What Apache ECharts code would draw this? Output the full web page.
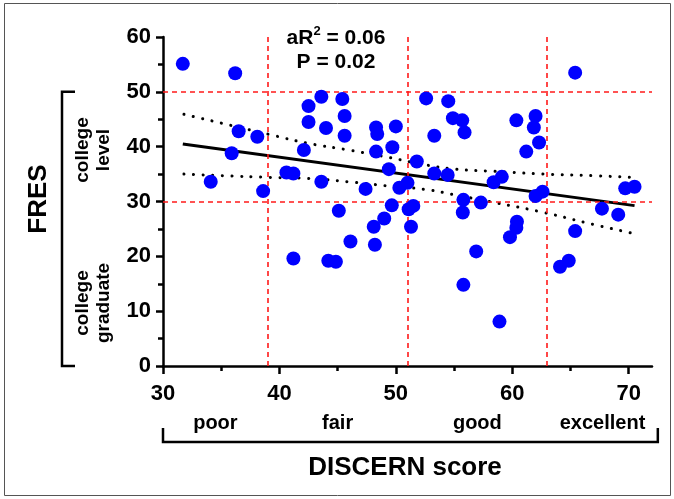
<!DOCTYPE html>
<html><head><meta charset="utf-8">
<script src="https://cdn.jsdelivr.net/npm/echarts@6/dist/echarts.min.js"></script>
<style>html,body{margin:0;padding:0;background:#fff}#c{width:674px;height:499px}</style>
</head><body><div id="c"></div>
<script>
// ---- data ----
const discern = [31.7, 36.2, 35.9, 36.5, 34.1, 38.1, 38.6, 40.6, 41.2, 41.2,
  42.1, 42.5, 42.5, 43.6, 44.0, 43.6, 44.2, 44.85, 45.1, 45.4,
  45.6, 45.6, 46.1, 47.4, 48.1, 48.2, 48.3, 48.4, 48.3, 49.0,
  49.4, 49.65, 49.7, 50.0, 50.3, 51.0, 51.1, 51.5, 51.3, 51.8,
  52.6, 53.3, 53.3, 54.45, 54.5, 54.9, 55.7, 55.9, 55.8, 55.75,
  55.8, 56.9, 57.3, 58.4, 59.1, 58.9, 59.8, 60.35, 60.4, 60.35,
  61.2, 61.85, 62.0, 62.3, 62.0, 62.6, 64.1, 64.85, 65.4, 65.4,
  67.7, 69.1, 69.7, 70.5];
const fres = [55.1, 53.4, 38.8, 42.8, 33.6, 41.8, 31.9, 35.3, 35.1, 19.6,
  39.4, 47.4, 44.5, 49.1, 43.4, 33.6, 19.2, 19.0, 28.3, 48.7,
  45.6, 42.0, 22.7, 32.3, 25.4, 22.1, 43.5, 42.3, 39.1, 26.9,
  35.9, 29.3, 39.9, 43.7, 32.5, 33.4, 28.6, 29.2, 25.4, 37.3,
  48.8, 42.0, 35.1, 34.85, 48.3, 45.2, 44.8, 42.6, 30.3, 28.0,
  14.8, 20.9, 29.8, 33.5, 34.5, 8.1, 23.5, 25.2, 26.3, 44.8,
  39.1, 43.5, 45.6, 40.75, 31.0, 31.8, 18.1, 19.2, 24.6, 53.5,
  28.7, 27.6, 32.4, 32.7];
const regX = [31.7, 70.5];
const regY = [40.5, 29.25];
const bandX = [31.8, 35.2, 39.2, 42.5, 45.9, 49.5, 52.5, 55.1, 58.5, 62.7, 67.0, 70.35];
const bandUpper = [45.9, 44.2, 42.2, 40.6, 39.4, 38.0, 36.7, 35.9, 35.5, 35.0, 34.7, 34.4];
const bandLower = [35.0, 34.7, 34.4, 34.2, 33.6, 32.8, 32.2, 31.2, 29.8, 28.0, 25.8, 24.2];
const cutX = [39, 51, 63];
const cutY = [30, 50];
const xTicks = [30, 40, 50, 60, 70];
const xMinorTicks = [35, 45, 55, 65];
const qualityLabels = ['poor', 'fair', 'good', 'excellent'];
const qualityEdges = [30, 39, 51, 63, 72.5];
const statsText = ['aR', '2', ' = 0.06', 'P = 0.02'];

const FONT = "'Liberation Sans', Arial, Helvetica, sans-serif";
const chart = echarts.init(document.getElementById('c'), null, {renderer: 'canvas'});

const points = discern.map((d, i) => [d, fres[i]]);
const regLine = regX.map((d, i) => [d, regY[i]]);
const upper = bandX.map((d, i) => [d, bandUpper[i]]);
const lower = bandX.map((d, i) => [d, bandLower[i]]);

const markLines = cutX.map(v => ({xAxis: v})).concat(cutY.map(v => ({yAxis: v})));

const dotStyle = {color: '#000', width: 3, type: [0.1, 9.5], cap: 'round'};

chart.setOption({
  animation: false,
  backgroundColor: '#fff',
  grid: {left: 163, right: 22, top: 37, bottom: 133, containLabel: false},
  xAxis: [{
    type: 'value', min: 30, max: 72, interval: 10,
    axisLine: {show: true, onZero: false, lineStyle: {color: '#000', width: 2.5}},
    axisTick: {show: true, length: 8, lineStyle: {color: '#000', width: 2.5}, customValues: xTicks},
    axisLabel: {show: true, customValues: xTicks, margin: 17, color: '#000', fontSize: 22, fontWeight: 'bold', fontFamily: FONT},
    splitLine: {show: false}
  }, {
    type: 'value', min: 30, max: 72, position: 'bottom', gridIndex: 0,
    axisLine: {show: false},
    axisTick: {show: true, length: 5, lineStyle: {color: '#000', width: 2.5}, customValues: xMinorTicks},
    axisLabel: {show: false},
    splitLine: {show: false}
  }],
  yAxis: {
    type: 'value', min: 0, max: 60, interval: 10,
    axisLine: {show: true, onZero: false, lineStyle: {color: '#000', width: 2.5}},
    axisTick: {show: true, length: 7, lineStyle: {color: '#000', width: 2.5}},
    minorTick: {show: true, splitNumber: 2, length: 5, lineStyle: {color: '#000', width: 2.5}},
    axisLabel: {margin: 12, color: '#000', fontSize: 22, fontWeight: 'bold', fontFamily: FONT},
    splitLine: {show: false}
  },
  series: [
    {
      type: 'line', data: [], silent: true,
      markLine: {
        silent: true, symbol: ['none', 'none'], label: {show: false},
        lineStyle: {color: '#ff1a1a', width: 1.6, type: [5, 4]},
        data: markLines
      },
      z: 1
    },
    {type: 'line', data: upper, smooth: true, symbol: 'none', lineStyle: dotStyle, z: 2},
    {type: 'line', data: lower, smooth: true, symbol: 'none', lineStyle: dotStyle, z: 2},
    {type: 'line', data: regLine, symbol: 'none', lineStyle: {color: '#000', width: 3}, z: 3},
    {type: 'scatter', data: points, symbol: 'circle', symbolSize: 14,
     itemStyle: {color: '#0000ff', opacity: 1}, z: 5}
  ]
});

function px(x, y) { return chart.convertToPixel({gridIndex: 0}, [x, y]); }

const bracketY0 = px(30, 50)[1];
const bracketY1 = px(30, 0)[1];
const bx0 = px(30, 0)[0];
const bx1 = px(72.5, 0)[0];
const lw = 2.5;
const gfx = [
  {type: 'rect', shape: {x: 4.5, y: 3.5, width: 666, height: 492},
   style: {fill: 'none', stroke: '#555', lineWidth: 1}, silent: true},
  // left bracket
  {type: 'polyline', shape: {points: [[75, bracketY0], [62, bracketY0], [62, bracketY1], [75, bracketY1]]},
   style: {fill: 'none', stroke: '#000', lineWidth: lw}},
  // bottom bracket
  {type: 'polyline', shape: {points: [[bx0, 428], [bx0, 442], [bx1, 442], [bx1, 428]]},
   style: {fill: 'none', stroke: '#000', lineWidth: lw}},
  {type: 'text', x: 38.5, y: 199, rotation: Math.PI / 2,
   style: {text: 'FRES', fill: '#000', font: 'bold 26px ' + FONT, align: 'center', verticalAlign: 'middle'}},
  {type: 'text', x: 93, y: 150, rotation: Math.PI / 2,
   style: {text: 'college\nlevel', fill: '#000', font: 'bold 19px ' + FONT, lineHeight: 21, align: 'center', verticalAlign: 'middle'}},
  {type: 'text', x: 93, y: 303, rotation: Math.PI / 2,
   style: {text: 'college\ngraduate', fill: '#000', font: 'bold 19px ' + FONT, lineHeight: 21, align: 'center', verticalAlign: 'middle'}},
  {type: 'text', x: 405, y: 468,
   style: {text: 'DISCERN score', fill: '#000', font: 'bold 26px ' + FONT, align: 'center', verticalAlign: 'middle'}},
  {type: 'text', x: 336, y: 37,
   style: {text: '{b|' + statsText[0] + '}{s|' + statsText[1] + '}{b|' + statsText[2] + '}',
     align: 'center', verticalAlign: 'middle',
     rich: {b: {fontSize: 21, fontWeight: 'bold', fontFamily: FONT, fill: '#000', lineHeight: 24, verticalAlign: 'bottom'},
            s: {fontSize: 13, fontWeight: 'bold', fontFamily: FONT, fill: '#000', lineHeight: 24, verticalAlign: 'top'}}}},
  {type: 'text', x: 336, y: 62,
   style: {text: statsText[3], fill: '#000', font: 'bold 21px ' + FONT, align: 'center', verticalAlign: 'middle'}}
];
for (let i = 0; i < qualityLabels.length; i++) {
  const cx = (px(qualityEdges[i], 0)[0] + px(qualityEdges[i + 1], 0)[0]) / 2;
  gfx.push({type: 'text', x: cx, y: 423,
    style: {text: qualityLabels[i], fill: '#000', font: 'bold 20px ' + FONT, align: 'center', verticalAlign: 'middle'}});
}
chart.setOption({graphic: gfx});
</script>
</body></html>
